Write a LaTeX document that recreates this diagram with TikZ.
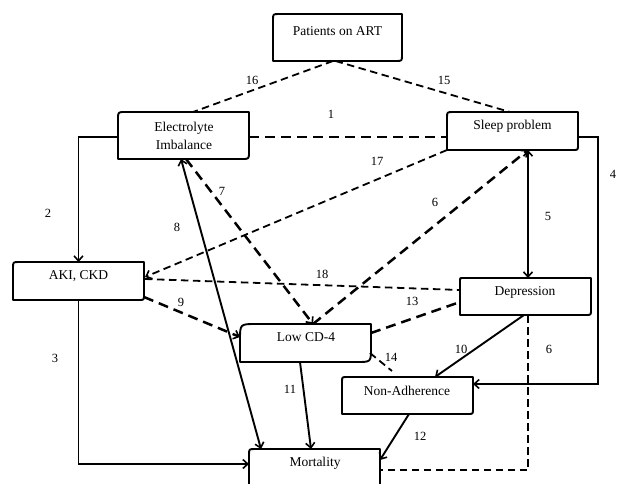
\documentclass[tikz,border=0pt]{standalone}
\usepackage{fontspec}
\setmainfont{Liberation Serif}
\usetikzlibrary{calc,arrows.meta}
\newcommand\tlbr[3]{%
\draw[boxframe] (#1.south west) -- ($(#1.north west)+(0,#2)$) .. controls (#1.north west) .. ($(#1.north west)+(#2,0)$) -- (#1.north east) -- ($(#1.south east)+(0,-#3)$) .. controls (#1.south east) .. ($(#1.south east)+(-#3,0)$) -- cycle;}
\begin{document}
\begin{tikzpicture}[x=1pt,y=-1pt,
 box/.style={inner sep=0pt,outer sep=0pt,draw=none},
 txt/.style={font=\fontsize{13.5}{18}\selectfont,align=center,inner sep=0pt,text=black},
 num/.style={font=\fontsize{12.5}{14}\selectfont,inner sep=0pt,text=black},
 boxframe/.style={line width=1.9pt,line join=round},
 sln/.style={line width=1.9pt},
 dthin/.style={line width=1.8pt,dash pattern=on 7.5pt off 4.5pt},
 dthick/.style={line width=2.5pt,dash pattern=on 10pt off 6pt},
 arr/.style={-{Straight Barb[length=5pt,width=9pt,line width=1.6pt]}},
 darr/.style={{Straight Barb[length=5pt,width=9pt,line width=1.6pt]}-{Straight Barb[length=5pt,width=9pt,line width=1.6pt]}},
]
\useasboundingbox (0,0) rectangle (619,483);
\clip (0,0) rectangle (619,483);
\fill[white] (0,0) rectangle (619,483);

% boxes
\node[box,minimum width=129pt,minimum height=47pt] (pat) at (337.5,37.5) {};
\node[box,minimum width=131pt,minimum height=47pt] (ele) at (183.5,135.5) {};
\node[box,minimum width=131pt,minimum height=38pt] (slp) at (512.5,131) {};
\node[box,minimum width=131pt,minimum height=38pt] (aki) at (78.5,281) {};
\node[box,minimum width=131pt,minimum height=37pt] (dep) at (525.5,296.5) {};
\node[box,minimum width=131pt,minimum height=38pt] (cd4) at (305.5,343) {};
\node[box,minimum width=131pt,minimum height=37pt] (non) at (407.5,395.5) {};
\node[box,minimum width=131pt,minimum height=46pt] (mor) at (314.5,472) {};

\tlbr{pat}{6}{6}
\tlbr{ele}{7}{7}
\tlbr{slp}{6}{5}
\tlbr{aki}{6}{5}
\tlbr{dep}{2}{5}
\tlbr{cd4}{16}{14}
\tlbr{non}{5}{5}
\draw[boxframe] (mor.south west) -- ($(mor.north west)+(0,6)$) .. controls (mor.north west) .. ($(mor.north west)+(6,0)$) -- (mor.north east) -- (mor.south east);

\node[txt] (patT) at (337.5,31) {Patients on ART};
\node[txt] (eleT) at (184,136) {Electrolyte\\Imbalance};
\node[txt] (slpT) at (512.5,126) {Sleep problem};
\node[txt] (akiT) at (78.5,276) {AKI, CKD};
\node[txt] (depT) at (525,292) {Depression};
\node[txt] (cd4T) at (306,337) {Low CD-4};
\node[txt] (nonT) at (407,391) {Non-Adherence};
\node[txt] (morT) at (315,463) {Mortality};

% connectors
\draw[dthin] ($(pat.south)+(-4.5,0)$) -- ($(ele.north)+(9.5,0)$);
\draw[dthin] ($(pat.south)+(-2,0)$) -- ($(slp.north)+(-2.5,0)$);
\draw[dthick] ($(ele.east)+(0,1.5)$) -- ($(slp.west)+(0,6)$);
\draw[dthin,arr] (slp.south west) -- ($(aki.east)+(1,-4)$);
\draw[dthin] ($(aki.east)+(1,-2)$) -- ($(dep.west)+(0,-6.5)$);
\draw[sln,arr] ($(ele.west)+(0,1.5)$) -| (aki.north);
\draw[sln,arr] (aki.south) |- ($(mor.west)+(0,-8)$);
\draw[sln,darr] ($(ele.south)+(-2.5,0)$) -- ($(mor.north)+(-53.5,0)$);
\draw[dthick,arr] ($(ele.south)+(2.5,0)$) -- ($(cd4.north)+(7.5,0)$);
\draw[dthick,arr] ($(cd4.north)+(7.5,0)$) -- ($(slp.south)+(15.5,0)$);
\draw[sln,darr] ($(slp.south)+(15.5,0)$) -- ($(dep.north)+(2.5,0)$);
\draw[dthick,arr] ($(aki.south east)+(0,-3)$) -- ($(cd4.west)+(0,-6)$);
\draw[dthick] ($(cd4.east)+(0,-10)$) -- ($(dep.west)+(0,5.5)$);
\draw[dthin] ($(cd4.south east)+(-1,-9)$) -- ($(non.north)+(-15.5,-6)$);
\draw[sln,arr] ($(dep.south)+(-1.5,0)$) -- ($(non.north)+(27.5,0)$);
\draw[dthin] ($(dep.south)+(2.5,0)$) |- ($(mor.east)+(0,-2)$);
\draw[sln,arr] ($(slp.east)+(0,6)$) -- ++(20,0) |- ($(non.east)+(0,-11.5)$);
\draw[sln,arr] ($(cd4.south)+(-5.5,0)$) -- ($(mor.north)+(-3.5,0)$);
\draw[sln,arr] ($(non.south)+(1.5,0)$) -- ($(mor.east)+(0,-12)$);

% numbers
\node[num] (n16) at (252,80) {16};
\node[num] (n15) at (444,80) {15};
\node[num] (n1) at (331,114) {1};
\node[num] (n17) at (377,161) {17};
\node[num] (n2) at (48,213) {2};
\node[num] (n8) at (177,227) {8};
\node[num] (n7) at (222,191) {7};
\node[num] (n6a) at (435,202) {6};
\node[num] (n5) at (548,216) {5};
\node[num] (n18) at (322,274) {18};
\node[num] (n9) at (181,302) {9};
\node[num] (n13) at (412,301) {13};
\node[num] (n3) at (55,358) {3};
\node[num] (n14) at (391,357) {14};
\node[num] (n10) at (461,349) {10};
\node[num] (n6b) at (549,349) {6};
\node[num] (n11) at (290,389) {11};
\node[num] (n12) at (420,436) {12};
\node[num] (n4) at (613,174) {4};
\end{tikzpicture}
\end{document}
